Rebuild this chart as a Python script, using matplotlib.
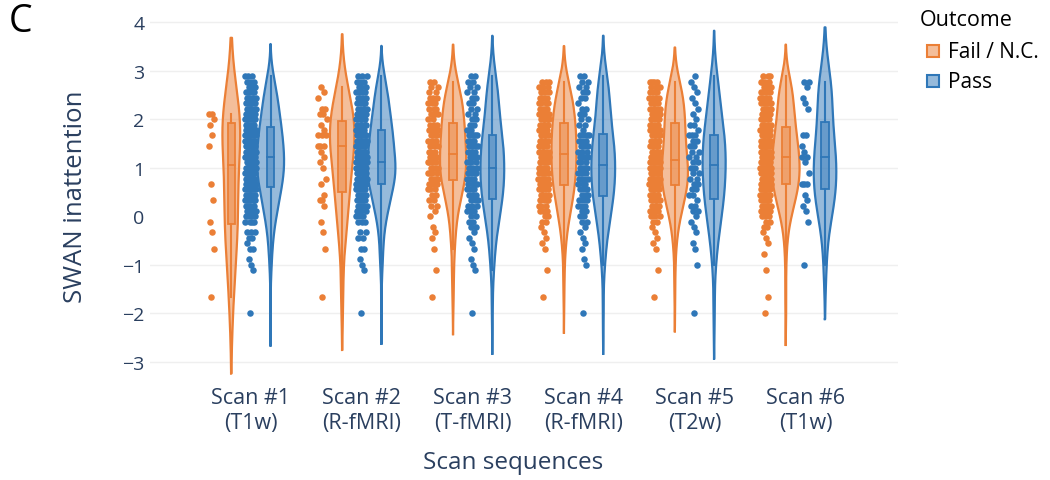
import numpy as np
import matplotlib.pyplot as plt
from matplotlib.patches import Rectangle

plt.rcParams['font.family'] = ['Open Sans', 'DejaVu Sans']

scans = ['Scan #1\n(T1w)', 'Scan #2\n(R-fMRI)', 'Scan #3\n(T-fMRI)',
         'Scan #4\n(R-fMRI)', 'Scan #5\n(T2w)', 'Scan #6\n(T1w)']

# SWAN inattention = sum of 9 items / 9 ; stored as {item sum: number of children}
fail_1 = {19: 2, 18: 1, 17: 1, 15: 1, 13: 1, 6: 1, 3: 1, -1: 1, -3: 1, -6: 1, -15: 1}
fail_2 = {24: 1, 23: 1, 22: 1, 20: 2, 19: 2, 18: 1, 17: 1, 16: 1, 15: 3, 13: 3, 12: 1,
          11: 1, 10: 1, 9: 1, 7: 1, 6: 1, 4: 1, 3: 2, 2: 1, -1: 1, -3: 1, -6: 1, -15: 1}
fail_3 = {25: 2, 24: 2, 23: 2, 22: 3, 21: 3, 20: 3, 19: 3, 18: 2, 17: 3, 16: 4, 15: 4,
          14: 3, 13: 3, 12: 3, 11: 4, 10: 4, 9: 4, 8: 4, 7: 4, 6: 3, 5: 3, 4: 2, 3: 2,
          2: 2, 1: 1, 0: 1, -2: 1, -3: 1, -4: 1, -6: 1, -10: 1, -15: 1}
fail_4 = {25: 3, 24: 3, 23: 3, 22: 4, 21: 4, 20: 4, 19: 4, 18: 5, 17: 5, 16: 5, 15: 5,
          14: 5, 13: 5, 12: 5, 11: 6, 10: 5, 9: 5, 8: 5, 7: 5, 6: 4, 5: 5, 4: 4, 3: 4,
          2: 3, 1: 3, 0: 2, -1: 2, -2: 1, -3: 1, -4: 1, -5: 1, -6: 1, -10: 1, -15: 1}
fail_5 = {25: 4, 24: 4, 23: 4, 22: 4, 21: 4, 20: 5, 19: 5, 18: 5, 17: 5, 16: 5, 15: 5,
          14: 5, 13: 5, 12: 5, 11: 5, 10: 7, 9: 7, 8: 7, 7: 7, 6: 7, 5: 6, 4: 5, 3: 5,
          2: 4, 1: 3, 0: 3, -1: 2, -2: 1, -3: 1, -4: 1, -5: 1, -6: 1, -10: 1, -15: 1}
fail_6 = {26: 3, 25: 4, 24: 4, 23: 4, 22: 5, 21: 5, 20: 5, 19: 5, 18: 5, 17: 4, 16: 7,
          15: 7, 14: 8, 13: 7, 12: 8, 11: 7, 10: 9, 9: 9, 8: 9, 7: 9, 6: 8, 5: 7, 4: 7,
          3: 6, 2: 5, 1: 4, 0: 3, -1: 2, -2: 2, -3: 1, -4: 1, -5: 1, -7: 1, -10: 1,
          -15: 1, -18: 1}

pass_1 = {26: 3, 25: 3, 24: 4, 23: 4, 22: 5, 21: 5, 20: 6, 19: 6, 18: 6, 17: 7, 16: 8,
          15: 8, 14: 9, 13: 8, 12: 9, 11: 9, 10: 10, 9: 10, 8: 9, 7: 9, 6: 8, 5: 7,
          4: 6, 3: 6, 2: 5, 1: 5, 0: 4, -1: 4, -3: 3, -4: 2, -5: 1, -6: 2, -8: 1,
          -9: 1, -10: 1, -18: 1}
pass_2 = {26: 3, 25: 3, 24: 3, 23: 4, 22: 4, 21: 4, 20: 5, 19: 5, 18: 5, 17: 6, 16: 7,
          15: 7, 14: 7, 13: 7, 12: 7, 11: 7, 10: 9, 9: 9, 8: 9, 7: 9, 6: 8, 5: 6, 4: 5,
          3: 5, 2: 5, 1: 4, 0: 3, -1: 3, -3: 2, -4: 2, -6: 2, -8: 1, -9: 1, -10: 1, -18: 1}
pass_3 = {26: 2, 25: 2, 24: 2, 23: 2, 22: 2, 21: 2, 20: 2, 19: 2, 18: 2, 17: 2, 16: 2,
          15: 4, 14: 4, 13: 4, 12: 4, 11: 3, 10: 3, 9: 4, 8: 4, 7: 4, 6: 4, 5: 4, 4: 3,
          3: 3, 2: 3, 1: 3, 0: 2, -1: 2, -2: 2, -3: 1, -4: 1, -5: 1, -6: 1, -8: 1,
          -9: 1, -10: 1, -18: 1}
pass_4 = {26: 2, 25: 2, 24: 2, 23: 2, 22: 2, 21: 1, 20: 2, 19: 2, 18: 2, 17: 2, 16: 1,
          15: 4, 14: 3, 13: 4, 12: 3, 11: 3, 10: 3, 9: 4, 8: 3, 7: 4, 6: 3, 5: 3, 4: 3,
          3: 3, 2: 3, 1: 2, 0: 2, -1: 2, -2: 1, -3: 1, -4: 1, -5: 1, -6: 1, -8: 1,
          -9: 1, -18: 1}
pass_5 = {26: 1, 25: 1, 24: 1, 23: 1, 22: 1, 21: 1, 20: 1, 19: 1, 18: 1, 17: 2, 16: 1,
          15: 3, 14: 2, 13: 2, 12: 2, 11: 2, 10: 2, 9: 2, 8: 2, 7: 2, 6: 2, 5: 2, 4: 2,
          3: 1, 2: 2, 1: 2, 0: 1, -1: 1, -2: 1, -3: 1, -5: 1, -6: 1, -9: 1, -18: 1}
pass_6 = {25: 2, 24: 1, 22: 1, 21: 1, 20: 1, 15: 2, 13: 1, 12: 1, 11: 2, 10: 1, 8: 1,
          6: 3, 4: 1, 3: 1, 2: 1, 1: 1, -1: 1, -9: 1}

fail_groups = [fail_1, fail_2, fail_3, fail_4, fail_5, fail_6]
pass_groups = [pass_1, pass_2, pass_3, pass_4, pass_5, pass_6]

orange = '#EB7F36'
blue = '#2F77B8'
navy = '#2a3f5f'


def values(d):
    return np.repeat(np.array(list(d.keys()), float), list(d.values())) / 9


def kde(v):
    n = len(v)
    q1, q3 = np.percentile(v, [25, 75])
    bw = 1.059 * min(v.std(), (q3 - q1) / 1.349) * n ** -0.2
    ys = np.linspace(v.min() - 2 * bw, v.max() + 2 * bw, 300)
    d = np.exp(-0.5 * ((ys[:, None] - v[None, :]) / bw) ** 2).sum(1) / (n * bw * np.sqrt(2 * np.pi))
    return ys, d


fig = plt.figure(figsize=(10.5, 4.81), dpi=100)
ax = fig.add_axes([150 / 1050, 1 - 382.2 / 481, 748 / 1050, (382.2 - 20.9) / 481])

all_kde = [[kde(values(g)) for g in fail_groups], [kde(values(g)) for g in pass_groups]]
dmax = max(k[1].max() for row in all_kde for k in row)
scale = 0.126 / dmax

for t, (groups, col, off) in enumerate([(fail_groups, orange, -0.177), (pass_groups, blue, 0.177)]):
    for i, g in enumerate(groups):
        v = values(g)
        x0 = i + off
        ys, d = all_kde[t][i]
        w = d * scale
        ax.fill_betweenx(ys, x0 - w, x0 + w, color=col, alpha=0.5, lw=0, zorder=2)
        ax.plot(np.r_[x0 - w, (x0 + w)[::-1], x0 - w[0]], np.r_[ys, ys[::-1], ys[0]],
                color=col, lw=1.6, zorder=3)
        q1, med, q3 = np.percentile(v, [25, 50, 75])
        iqr = q3 - q1
        lo = v[v >= q1 - 1.5 * iqr].min()
        hi = v[v <= q3 + 1.5 * iqr].max()
        ax.plot([x0, x0], [lo, q1], color=col, lw=1.5, zorder=4)
        ax.plot([x0, x0], [q3, hi], color=col, lw=1.5, zorder=4)
        ax.add_patch(Rectangle((x0 - 0.034, q1), 0.068, iqr, facecolor=col, alpha=0.45,
                               edgecolor='none', zorder=4))
        ax.add_patch(Rectangle((x0 - 0.034, q1), 0.068, iqr, facecolor='none',
                               edgecolor=col, lw=1.3, zorder=4))
        ax.plot([x0 - 0.034, x0 + 0.034], [med, med], color=col, lw=1.3, zorder=4)
        # jittered points to the left of each violin
        s = np.sort(v)
        n = len(s)
        f = np.empty(n)
        for j in range(n):
            j0, j1 = max(0, j - 5), min(n - 1, j + 5)
            f[j] = np.sqrt(0.06 * (j1 - j0) / (s[j1] - s[j0] + 0.05))
        f = np.clip(f, 0.45, 1)
        u = ((np.arange(n) * 0.618034 + 0.37) % 1) * 2 - 1
        ax.scatter(x0 - 0.18 + 0.05 * f * u, s, s=22, color=col, lw=0, zorder=5)

ax.set_xlim(-0.91, 5.835)
ax.set_ylim(-3.4, 4.05)
ax.set_yticks(range(-3, 5))
ax.set_xticks(range(6))
ax.set_xticklabels(scans, linespacing=1.25)
for yv in range(-3, 5):
    if yv != 0:
        ax.axhline(yv, color='#efefef', lw=1, zorder=0)
for sp in ax.spines.values():
    sp.set_visible(False)
ax.tick_params(axis='y', length=0, pad=4, labelsize=14, labelcolor=navy)
ax.tick_params(axis='x', length=0, pad=4, labelsize=15.5, labelcolor=navy)

fig.text(75 / 1050, 1 - 197 / 481, 'SWAN inattention', rotation=90, ha='center', va='center',
         fontsize=18.5, color=navy)
fig.text(513 / 1050, 1 - 463 / 481, 'Scan sequences', ha='center', va='center',
         fontsize=17.5, color=navy)
fig.text(9 / 1050, 1 - 22 / 481, 'C', ha='left', va='center', fontsize=27, color='black')

# legend
fig.text(920 / 1050, 1 - 21 / 481, 'Outcome', ha='left', va='center', fontsize=15.5, color='black')
for yy, col, lab in [(52, orange, 'Fail / N.C.'), (82, blue, 'Pass')]:
    fig.patches.append(Rectangle((927 / 1050, 1 - (yy + 6) / 481), 12 / 1050, 12 / 481,
                                 facecolor=col, alpha=0.5, edgecolor='none',
                                 transform=fig.transFigure, figure=fig))
    fig.patches.append(Rectangle((927 / 1050, 1 - (yy + 6) / 481), 12 / 1050, 12 / 481,
                                 facecolor='none', edgecolor=col, lw=1.5,
                                 transform=fig.transFigure, figure=fig))
    fig.text(948 / 1050, 1 - yy / 481, lab, ha='left', va='center', fontsize=15, color='black')

fig.savefig('out.png', dpi=100)
